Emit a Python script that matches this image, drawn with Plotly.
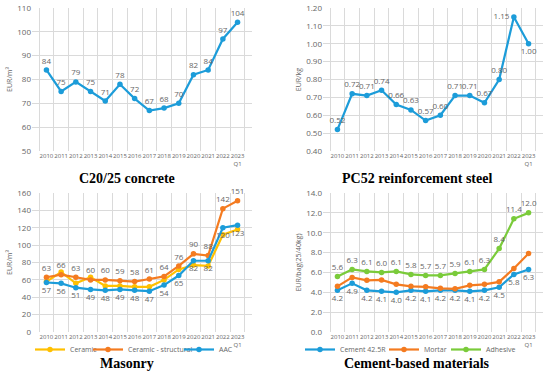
import plotly.graph_objects as go

years = ["2010", "2011", "2012", "2013", "2014", "2015", "2016", "2017",
         "2018", "2019", "2020", "2021", "2022", "2023<br>Q1"]

concrete = [84, 75, 79, 75, 71, 78, 72, 67, 68, 70, 82, 84, 97, 104]
steel = [0.52, 0.72, 0.71, 0.74, 0.66, 0.63, 0.57, 0.60, 0.71, 0.71, 0.67, 0.80, 1.15, 1.00]

ceramic = [58, 69, 56, 63, 53, 53, 52, 52, 60, 72, 77, 76, 112, 118]
ceramic_struct = [63, 66, 63, 60, 60, 59, 58, 61, 64, 76, 90, 88, 142, 151]
aac = [57, 56, 51, 49, 48, 49, 48, 47, 54, 65, 82, 82, 120, 123]

cement = [4.2, 4.9, 4.2, 4.1, 4.0, 4.2, 4.1, 4.2, 4.2, 4.1, 4.2, 4.5, 5.8, 6.3]
mortar = [4.6, 5.5, 5.2, 5.25, 4.8, 4.6, 4.55, 4.4, 4.35, 4.7, 4.8, 5.05, 6.4, 7.9]
adhesive = [5.6, 6.3, 6.1, 6.0, 6.1, 5.8, 5.7, 5.7, 5.9, 6.1, 6.3, 8.4, 11.4, 12.0]

steel_labels = ["0.52", "0.72", "0.71", "0.74", "0.66", "0.63", "0.57", "0.60",
                "0.71", "0.71", "0.67", "0.80", "1.15", "1.00"]
cement_labels = [f"{v:.1f}" for v in cement]
adhesive_labels = [f"{v:.1f}" for v in adhesive]

BLUE = "#1C9CD9"
ORANGE = "#F47B20"
YELLOW = "#FFC000"
GREEN = "#7ACB3A"
GRAY = "#666666"
GRID = "#DADADA"
FONT = "Open Sans"

W, H = 550, 372
def fx(px): return px / W
def fy(px): return 1 - px / H

fig = go.Figure()

def line(x, y, color, xa, ya, name=None, text=None, pos=None, legend=None):
    fig.add_trace(go.Scatter(
        x=x, y=y, mode="lines+markers+text" if text else "lines+markers",
        line=dict(color=color, width=2.2), marker=dict(color=color, size=5.5),
        text=text, textposition=pos, textfont=dict(size=8, color=GRAY, family=FONT),
        xaxis=xa, yaxis=ya, name=name, showlegend=legend is not None,
        legend=legend if legend else "legend", cliponaxis=False))

# Panel 1
line(years, concrete, BLUE, "x", "y", text=[str(v) for v in concrete], pos="top center")
# Panel 2
pos2 = ["top center"] * 14
pos2[12] = "middle left"
pos2[13] = "bottom center"
line(years, steel, BLUE, "x2", "y2", text=steel_labels, pos=pos2)
# Panel 3
line(years, ceramic, YELLOW, "x3", "y3", name="Ceramic", legend="legend")
line(years, ceramic_struct, ORANGE, "x3", "y3", name="Ceramic - structural",
     text=[str(v) for v in ceramic_struct], pos="top center", legend="legend2")
line(years, aac, BLUE, "x3", "y3", name="AAC",
     text=[str(v) for v in aac], pos="bottom center", legend="legend3")
# Panel 4
line(years, cement, BLUE, "x4", "y4", name="Cement 42.5R",
     text=cement_labels, pos="bottom center", legend="legend4")
line(years, mortar, ORANGE, "x4", "y4", name="Mortar", legend="legend5")
line(years, adhesive, GREEN, "x4", "y4", name="Adhesive",
     text=adhesive_labels, pos="top center", legend="legend6")

xcommon = dict(type="category", tickson="boundaries", showgrid=True, gridcolor=GRID,
               gridwidth=1, showline=False, zeroline=False, ticks="",
               tickfont=dict(size=6, color=GRAY, family=FONT), tickangle=0,
               automargin=False, fixedrange=True)
ycommon = dict(showgrid=True, gridcolor=GRID, gridwidth=1, zeroline=False,
               showline=False, ticks="", tickfont=dict(size=8, color=GRAY, family=FONT),
               title_font=dict(size=7, color=GRAY, family=FONT), title_standoff=3,
               automargin=False)

top = [fy(151), fy(8)]
bot = [fy(332), fy(193)]
left = [fx(32), fx(252)]
right = [fx(323), fx(543)]

def leg(xpx):
    return dict(orientation="h", x=fx(xpx), y=fy(335), xanchor="left", yanchor="top",
                font=dict(size=7, color=GRAY, family=FONT), itemwidth=30,
                bgcolor="rgba(0,0,0,0)", borderwidth=0)

fig.update_layout(
    width=W, height=H, margin=dict(l=0, r=0, t=0, b=0, autoexpand=False),
    paper_bgcolor="white", plot_bgcolor="white",
    xaxis=dict(domain=left, anchor="y", **xcommon),
    yaxis=dict(domain=top, anchor="x", range=[50, 110], dtick=10,
               title_text="EUR/m³", **ycommon),
    xaxis2=dict(domain=right, anchor="y2", **xcommon),
    yaxis2=dict(domain=top, anchor="x2", range=[0.40, 1.20], dtick=0.1,
                tickformat=".2f", title_text="EUR/kg", **ycommon),
    xaxis3=dict(domain=left, anchor="y3", **xcommon),
    yaxis3=dict(domain=bot, anchor="x3", range=[0, 160], dtick=20,
                title_text="EUR/m³", **ycommon),
    xaxis4=dict(domain=right, anchor="y4", **xcommon),
    yaxis4=dict(domain=bot, anchor="x4", range=[0, 14], dtick=2,
                tickformat=".1f", title_text="EUR/bag(25/40kg)", **ycommon),
    legend=leg(30), legend2=leg(88), legend3=leg(179),
    legend4=leg(300), legend5=leg(384), legend6=leg(446),
    showlegend=True,
)

titles = [("C20/25 concrete", 127, 178), ("PC52 reinforcement steel", 417, 178),
          ("Masonry", 127, 363), ("Cement-based materials", 417, 363)]
for t, xpx, ypx in titles:
    fig.add_annotation(text=f"<b>{t}</b>", x=fx(xpx), y=fy(ypx), xref="paper", yref="paper",
                       showarrow=False, xanchor="center", yanchor="middle",
                       font=dict(size=14, color="black", family="Liberation Serif"))

fig.write_html("out.html", config={"displayModeBar": False},
               post_script="document.body.style.margin='0';")
